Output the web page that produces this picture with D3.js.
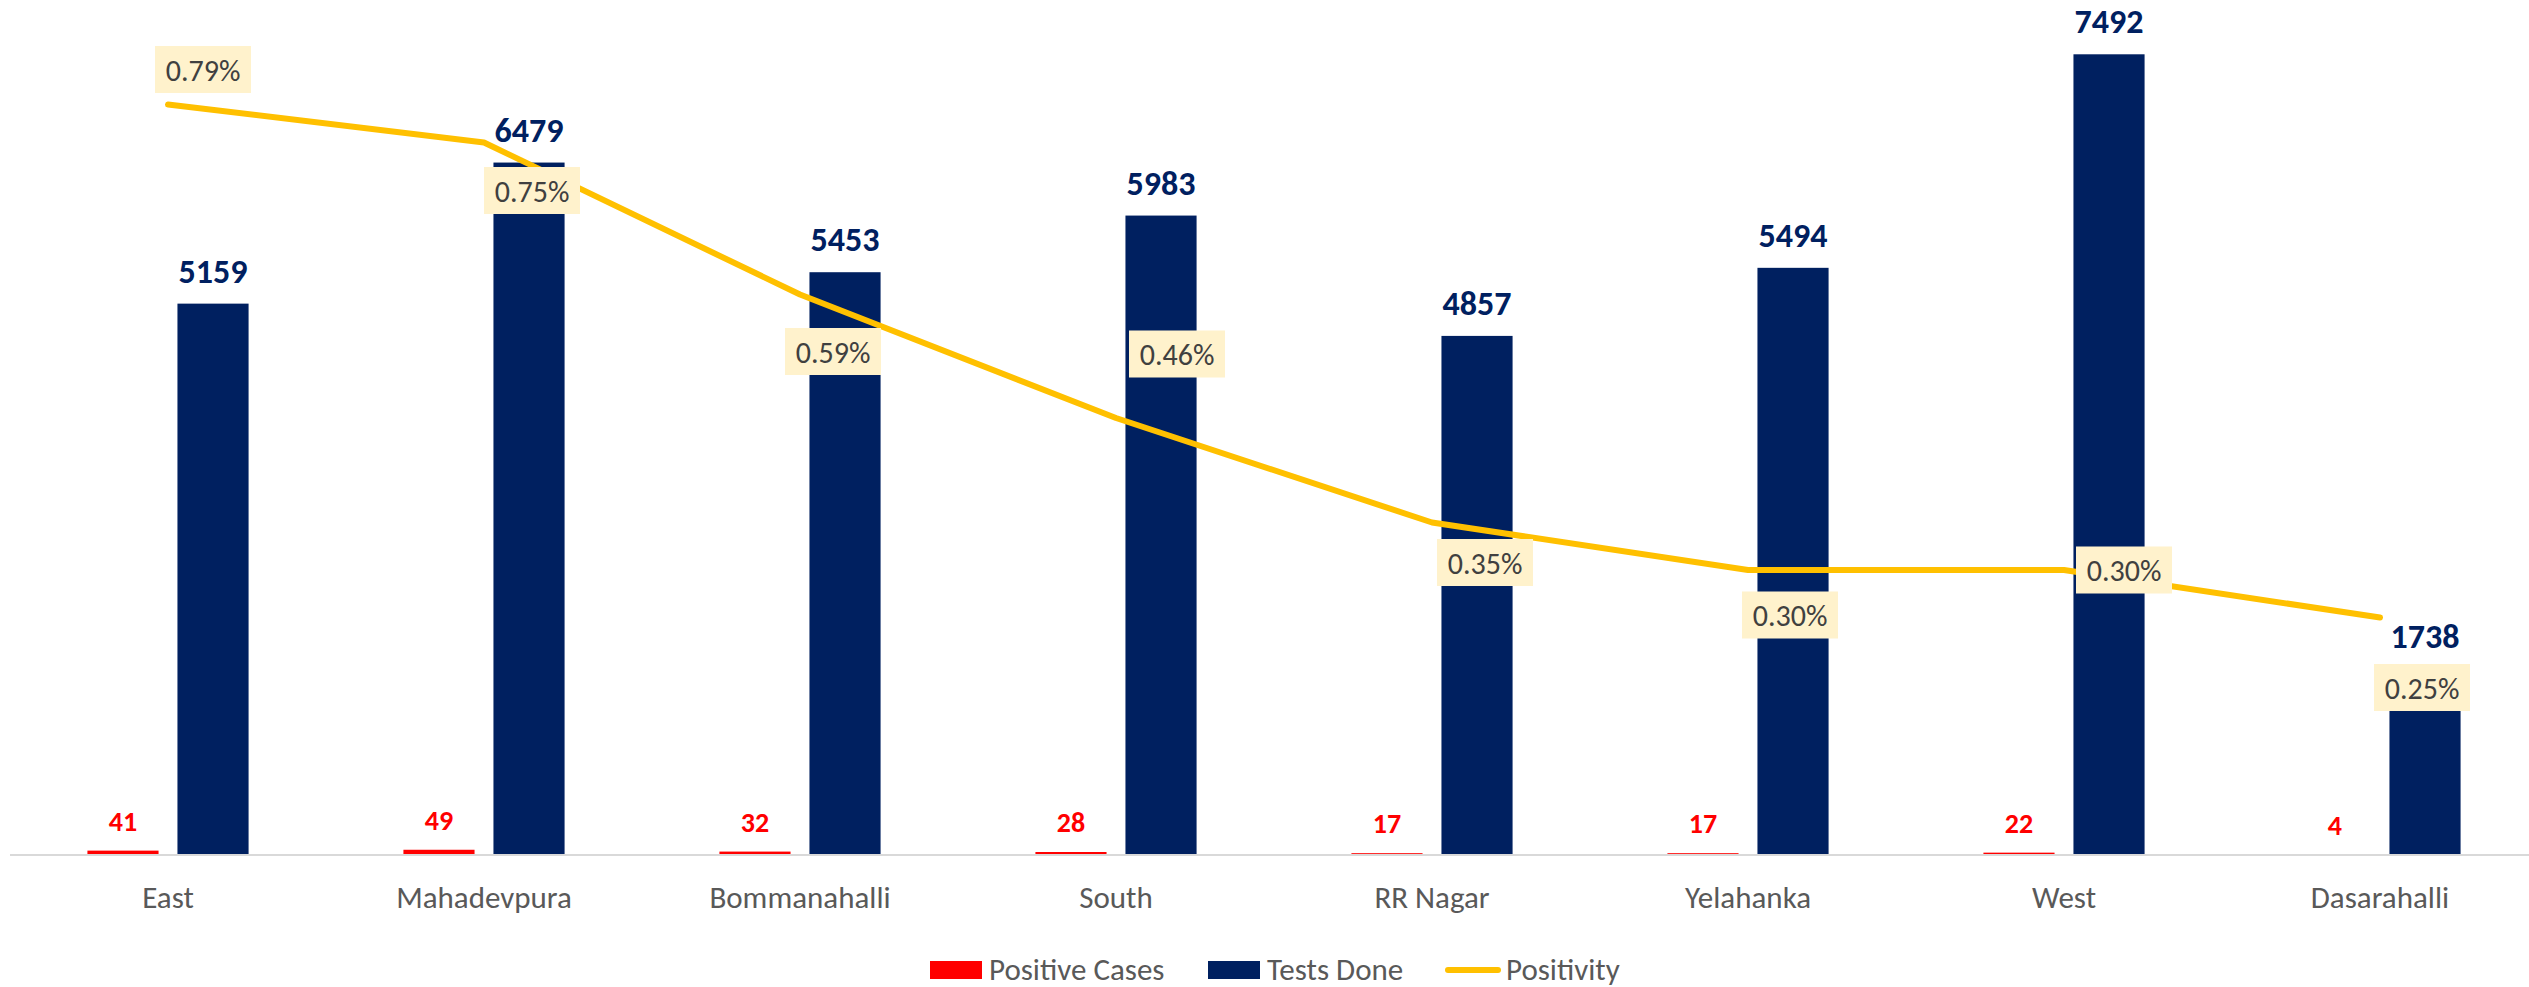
<!DOCTYPE html>
<html>
<head>
<meta charset="utf-8">
<script src="https://cdn.jsdelivr.net/npm/d3@7"></script>
<style>
  body { margin: 0; background: #fff; }
  text { font-family: Calibri, Carlito, Lato, sans-serif; }
</style>
</head>
<body>
<div id="chart-container"></div>
<script>
// zone wise tests vs positives, with positivity on a second axis
var zones = ["East", "Mahadevpura", "Bommanahalli", "South", "RR Nagar", "Yelahanka", "West", "Dasarahalli"];
var positiveCases = [41, 49, 32, 28, 17, 17, 22, 4];
var testsDone = [5159, 6479, 5453, 5983, 4857, 5494, 7492, 1738];
var positivity = [0.79, 0.75, 0.59, 0.46, 0.35, 0.30, 0.30, 0.25];   // percent
var seriesNames = ["Positive Cases", "Tests Done", "Positivity"];

// where each positivity label box sits, relative to its point
var pctLabelNudge = [[35, -35], [48, 48], [33, 57], [61, -64], [53, 40], [42, 45], [60, 0], [42, 70]];

var svgWidth = 2529;
var svgHeight = 987;
var margin = { top: 0, left: 10 };
var plotRight = 2538;   // last band runs a little past the edge
var baseY = 855;

var svg = d3.select("#chart-container")
    .append("svg")
    .attr("width", svgWidth)
    .attr("height", svgHeight);

// category + series scales
var x0 = d3.scaleBand()
    .domain(zones)
    .range([margin.left, plotRight])
    .paddingInner(0.49)
    .paddingOuter(0.245);

var x1 = d3.scaleBand()
    .domain(["pos", "tests"])
    .range([0, x0.bandwidth()])
    .paddingInner(0.21);

var y = d3.scaleLinear().domain([0, 8000]).range([baseY, margin.top]);
var y2 = d3.scaleLinear().domain([0, 0.9]).range([baseY, margin.top]);

function mid(z) { return x0(z) + x0.bandwidth() / 2; }

// bars
var groups = svg.selectAll(".zone")
    .data(zones)
    .enter().append("g")
    .attr("class", "zone")
    .attr("transform", function(d) { return "translate(" + x0(d) + ",0)"; });

groups.append("rect")
    .attr("x", x1("pos"))
    .attr("width", x1.bandwidth())
    .attr("y", function(d, i) { return y(positiveCases[i]); })
    .attr("height", function(d, i) { return baseY - y(positiveCases[i]); })
    .style("fill", "#FF0000");

groups.append("rect")
    .attr("x", x1("tests"))
    .attr("width", x1.bandwidth())
    .attr("y", function(d, i) { return y(testsDone[i]); })
    .attr("height", function(d, i) { return baseY - y(testsDone[i]); })
    .style("fill", "#002060");

// x axis
var xAxis = svg.append("g")
    .attr("transform", "translate(0," + baseY + ")")
    .call(d3.axisBottom(x0).tickSize(0).tickPadding(0));
xAxis.select(".domain")
    .attr("d", "M" + margin.left + ",0H" + svgWidth)
    .attr("stroke", "#D9D9D9")
    .attr("stroke-width", 2);
xAxis.selectAll("text")
    .attr("y", 53)
    .attr("dy", null)
    .style("font-family", "Calibri, Carlito, Lato, sans-serif")
    .style("font-size", "31px")
    .style("fill", "#595959");

// bar value labels
groups.append("text")
    .attr("x", x1("pos") + x1.bandwidth() / 2)
    .attr("y", function(d, i) { return y(positiveCases[i]) - 20; })
    .attr("text-anchor", "middle")
    .style("font-size", "28px")
    .style("font-weight", "bold")
    .style("fill", "#FF0000")
    .text(function(d, i) { return positiveCases[i]; });

groups.append("text")
    .attr("x", x1("tests") + x1.bandwidth() / 2)
    .attr("y", function(d, i) { return y(testsDone[i]) - 21; })
    .attr("text-anchor", "middle")
    .style("font-size", "34px")
    .style("font-weight", "bold")
    .style("fill", "#002060")
    .text(function(d, i) { return testsDone[i]; });

// positivity line
var line = d3.line()
    .x(function(d, i) { return mid(zones[i]); })
    .y(function(d) { return y2(d); });

svg.append("path")
    .datum(positivity)
    .attr("d", line)
    .attr("fill", "none")
    .attr("stroke", "#FFC000")
    .attr("stroke-width", 6)
    .attr("stroke-linecap", "round")
    .attr("stroke-linejoin", "round");

// positivity labels in boxes
var boxW = 96, boxH = 47;
var pct = svg.selectAll(".pct")
    .data(positivity)
    .enter().append("g")
    .attr("class", "pct")
    .attr("transform", function(d, i) {
        var cx = mid(zones[i]) + pctLabelNudge[i][0];
        var cy = y2(d) + pctLabelNudge[i][1];
        return "translate(" + cx + "," + cy + ")";
    });

pct.append("rect")
    .attr("x", -boxW / 2)
    .attr("y", -boxH / 2)
    .attr("width", boxW)
    .attr("height", boxH)
    .style("fill", "#FFF2CC");

pct.append("text")
    .attr("text-anchor", "middle")
    .attr("y", 11)
    .style("font-size", "30px")
    .style("fill", "#404040")
    .text(function(d) { return d.toFixed(2) + "%"; });

// legend
var legend = svg.append("g").attr("transform", "translate(930,0)");
var legendX = [0, 278, 515];
var legendColors = ["#FF0000", "#002060", "#FFC000"];

seriesNames.forEach(function(name, i) {
    var g = legend.append("g").attr("transform", "translate(" + legendX[i] + ",0)");
    if (i < 2) {
        g.append("rect")
            .attr("x", 0).attr("y", 961)
            .attr("width", 52).attr("height", 18)
            .style("fill", legendColors[i]);
    } else {
        g.append("line")
            .attr("x1", 3).attr("x2", 53)
            .attr("y1", 970).attr("y2", 970)
            .attr("stroke", legendColors[i])
            .attr("stroke-width", 6)
            .attr("stroke-linecap", "round");
    }
    g.append("text")
        .attr("x", i < 2 ? 59 : 61)
        .attr("y", 980)
        .style("font-size", "31px")
        .style("fill", "#595959")
        .text(name);
});
</script>
</body>
</html>
